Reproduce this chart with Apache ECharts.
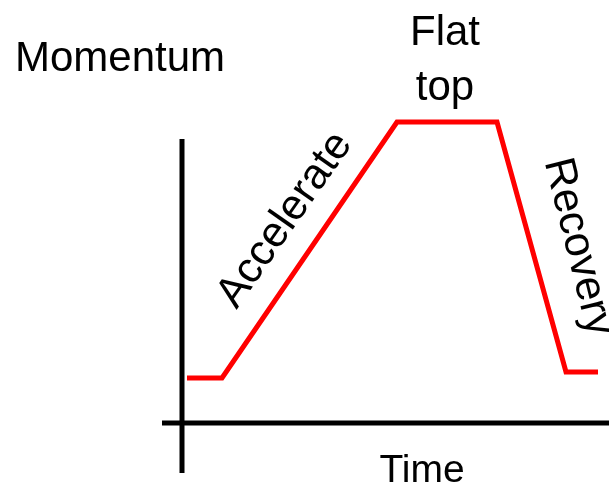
<!DOCTYPE html>
<html>
<head>
<meta charset="utf-8">
<script src="https://cdn.jsdelivr.net/npm/echarts@6/dist/echarts.min.js"></script>
<style>
html,body{margin:0;padding:0;background:#fff;}
#c{width:609px;height:493px;}
</style>
</head>
<body>
<div id="c"></div>
<script>
// Time (t) and momentum (m) in arbitrary units
var timeValues = [0.5, 4.0, 21.5, 31.5, 38.4, 41.6];
var momentumValues = [4.5, 4.5, 30.1, 30.1, 5.1, 5.1];
var vAxisLine = [[0, -5], [0, 28.4]];
var hAxisLine = [[-2, 0], [42.7, 0]];
var labels = { y: 'Momentum', x: 'Time', flat: 'Flat\ntop', acc: 'Accelerate', rec: 'Recovery' };

var chart = echarts.init(document.getElementById('c'));
var font = '"Liberation Sans", Arial, sans-serif';
chart.setOption({
  backgroundColor: '#fff',
  animation: false,
  grid: { left: 162, right: 0, top: 100, bottom: 20 },
  xAxis: { type: 'value', min: -2, max: 42.7, show: false },
  yAxis: { type: 'value', min: -5, max: 32.3, show: false },
  series: [
    { type: 'line', data: vAxisLine, symbol: 'none', lineStyle: { color: '#000', width: 5 } },
    { type: 'line', data: hAxisLine, symbol: 'none', lineStyle: { color: '#000', width: 5 } },
    { type: 'line', data: timeValues.map(function (t, i) { return [t, momentumValues[i]]; }),
      symbol: 'none', lineStyle: { color: '#ff0000', width: 5, join: 'miter' } }
  ],
  graphic: [
    { type: 'text', left: 15, top: 38, style: { text: labels.y, font: '42px ' + font, fill: '#000' } },
    { type: 'text', x: 445, y: 6, style: { text: labels.flat, font: '42px ' + font, fill: '#000', align: 'center', lineHeight: 55 } },
    { type: 'text', x: 422, y: 471, style: { text: labels.x, font: '39px ' + font, fill: '#000', align: 'center', verticalAlign: 'middle' } },
    { type: 'text', x: 285, y: 220, rotation: 55 * Math.PI / 180,
      style: { text: labels.acc, font: '43px ' + font, fill: '#000', align: 'center', verticalAlign: 'middle' } },
    { type: 'text', x: 578, y: 247, rotation: -76 * Math.PI / 180,
      style: { text: labels.rec, font: '43px ' + font, fill: '#000', align: 'center', verticalAlign: 'middle' } }
  ]
});
</script>
</body>
</html>
